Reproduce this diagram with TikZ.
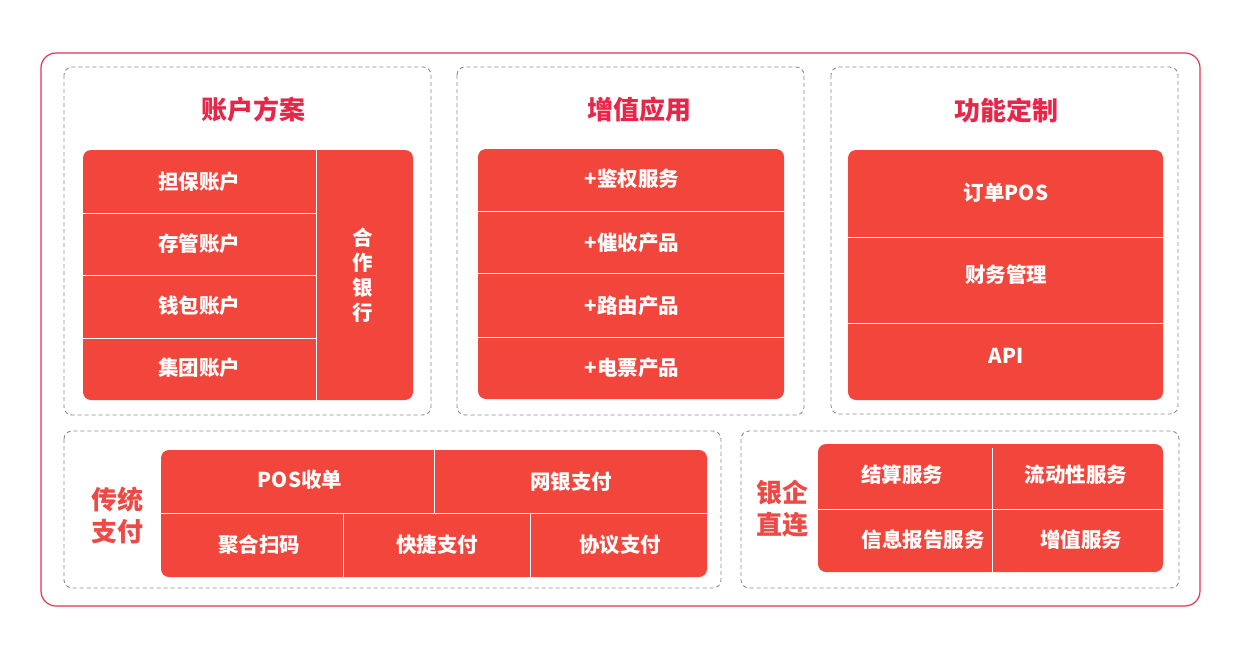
\documentclass[tikz,border=0pt]{standalone}
\usepackage{fontspec}
\newfontfamily\cjk{Noto Sans CJK SC}
\definecolor{titlered}{HTML}{E8264A}
\definecolor{sidered}{HTML}{EE4A45}
\definecolor{blockred}{HTML}{F2463C}
\definecolor{outerred}{HTML}{E8334F}
\definecolor{dashgray}{HTML}{8A8A8A}
\tikzset{
  outerbox/.style={draw=outerred, line width=1.2pt, rounded corners=15pt},
  groupbox/.style={draw=dashgray, line width=0.9pt, dash pattern=on 4pt off 3pt, rounded corners=8pt},
  redblock/.style={fill=blockred, rounded corners=8pt},
  divider/.style={draw=white, line width=1pt},
  grouptitle/.style={font=\cjk\bfseries\fontsize{26}{30}\selectfont, text=titlered, inner sep=0pt},
  sidetitle/.style={font=\cjk\bfseries\fontsize{26}{32}\selectfont, text=sidered, align=center, inner sep=0pt},
  celltext/.style={font=\cjk\bfseries\fontsize{20.5}{25}\selectfont, text=white, inner sep=0pt, align=center},
}
\begin{document}
\begin{tikzpicture}[x=1pt,y=-1pt]
\useasboundingbox (0,0) rectangle (1247,648);
% outer frame
\draw[outerbox] (41,53) rectangle (1200,606);
% group boxes
\draw[groupbox] (64,67) rectangle (431,415);
\draw[groupbox] (457,67) rectangle (804,415);
\draw[groupbox] (831,67) rectangle (1178,414);
\draw[groupbox] (64,431) rectangle (721,588);
\draw[groupbox] (741,431) rectangle (1179,588);
% titles
\node[grouptitle] (t1) at (253,110) {账户方案};
\node[grouptitle] (t2) at (639,110) {增值应用};
\node[grouptitle] (t3) at (1006,110) {功能定制};
\node[sidetitle] (t4) at (117,515) {传统\\支付};
\node[sidetitle] (t5) at (782,509) {银企\\直连};

% ---------- block 1: accounts
\fill[redblock] (83,150) rectangle (413,400);
\draw[divider] (316,150) -- (316,400);
\draw[divider] (83,213) -- (316,213);
\draw[divider] (83,275) -- (316,275);
\draw[divider] (83,338) -- (316,338);
\node[celltext] (a1) at (199,182) {担保账户};
\node[celltext] (a2) at (199,244) {存管账户};
\node[celltext] (a3) at (199,306) {钱包账户};
\node[celltext] (a4) at (199,368) {集团账户};
\node[celltext] (a5) at (363,275) {合\\作\\银\\行};

% ---------- block 2: value-added
\fill[redblock] (478,149) rectangle (784,399);
\draw[divider] (478,211) -- (784,211);
\draw[divider] (478,273) -- (784,273);
\draw[divider] (478,337) -- (784,337);
\node[celltext] (b1) at (632,179) {+鉴权服务};
\node[celltext] (b2) at (632,243) {+催收产品};
\node[celltext] (b3) at (632,306) {+路由产品};
\node[celltext] (b4) at (632,368) {+电票产品};

% ---------- block 3: custom functions
\fill[redblock] (848,150) rectangle (1163,400);
\draw[divider] (848,237) -- (1163,237);
\draw[divider] (848,323) -- (1163,323);
\node[celltext] (c1) at (1006,193) {订单POS};
\node[celltext] (c2) at (1006,275) {财务管理};
\node[celltext] (c3) at (1006,356) {API};

% ---------- block 4: traditional payment
\fill[redblock] (161,450) rectangle (707,577);
\draw[divider] (161,513) -- (707,513);
\draw[divider] (434,450) -- (434,513);
\draw[divider] (343,513) -- (343,577);
\draw[divider] (530,513) -- (530,577);
\node[celltext] (d1) at (300,480) {POS收单};
\node[celltext] (d2) at (571,482) {网银支付};
\node[celltext] (d3) at (259,545) {聚合扫码};
\node[celltext] (d4) at (437,545) {快捷支付};
\node[celltext] (d5) at (620,545) {协议支付};

% ---------- block 5: bank-enterprise direct
\fill[redblock] (818,444) rectangle (1163,572);
\draw[divider] (818,509) -- (1163,509);
\draw[divider] (992,448) -- (992,572);
\node[celltext] (e1) at (902,475) {结算服务};
\node[celltext] (e2) at (1076,475) {流动性服务};
\node[celltext] (e3) at (923,540) {信息报告服务};
\node[celltext] (e4) at (1081,540) {增值服务};
\end{tikzpicture}
\end{document}
